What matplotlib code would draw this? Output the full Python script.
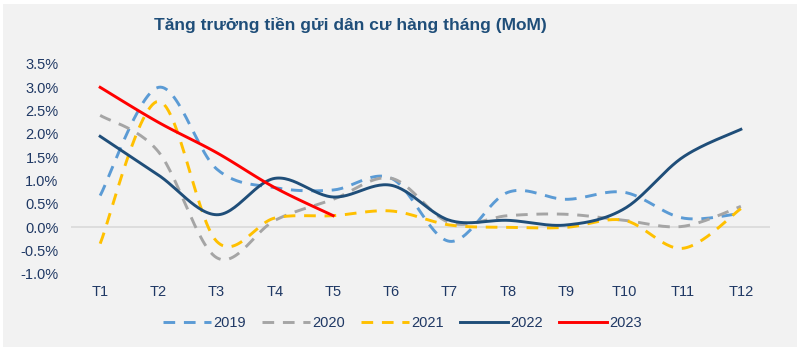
import numpy as np
import matplotlib.pyplot as plt
from matplotlib.patches import Rectangle

months = ['T1', 'T2', 'T3', 'T4', 'T5', 'T6', 'T7', 'T8', 'T9', 'T10', 'T11', 'T12']
y2019 = [0.68, 3.00, 1.25, 0.85, 0.80, 1.05, -0.30, 0.75, 0.60, 0.75, 0.20, 0.30]
y2020 = [2.40, 1.62, -0.65, 0.15, 0.60, 1.05, 0.10, 0.25, 0.28, 0.15, 0.02, 0.45]
y2021 = [-0.35, 2.70, -0.30, 0.20, 0.25, 0.35, 0.05, 0.00, 0.00, 0.15, -0.45, 0.40]
y2022 = [1.95, 1.12, 0.27, 1.05, 0.65, 0.90, 0.15, 0.15, 0.05, 0.40, 1.50, 2.10]
y2023 = [3.00, 2.25, 1.60, 0.85, 0.25]


def smooth(y, n=30):
    # Excel-like smoothed line: Bezier segments with 1/6 tangent control points
    x = np.arange(len(y), dtype=float)
    y = np.asarray(y, dtype=float)
    pts = np.column_stack([x, y])
    p = np.vstack([pts[0], pts, pts[-1]])
    out = []
    t = np.linspace(0, 1, n)[:, None]
    for i in range(1, len(p) - 2):
        p0, p1 = p[i], p[i + 1]
        c1 = p0 + (p[i + 1] - p[i - 1]) / 6
        c2 = p1 - (p[i + 2] - p[i]) / 6
        seg = ((1 - t) ** 3) * p0 + 3 * ((1 - t) ** 2) * t * c1 + 3 * (1 - t) * t ** 2 * c2 + t ** 3 * p1
        out.append(seg if i == 1 else seg[1:])
    seg = np.vstack(out)
    return seg[:, 0], seg[:, 1]


plt.rcParams['font.family'] = ['Liberation Sans', 'DejaVu Sans']
bg = '#F2F2F2'
txt = '#1F3864'

fig = plt.figure(figsize=(8, 3.53), dpi=100, facecolor='white')
fig.patches.append(Rectangle((3 / 800, 6 / 353), 794 / 800, 343 / 353, transform=fig.transFigure,
                             facecolor=bg, edgecolor='none', zorder=-10))
ax = fig.add_axes([0.0888, 0.2238, 0.8737, 0.5949])
ax.set_facecolor(bg)
ax.patch.set_alpha(0)

series = [
    ('2019', y2019, '#5B9BD5', (4, 3)),
    ('2020', y2020, '#A5A5A5', (4, 3)),
    ('2021', y2021, '#FFC000', (4, 3)),
    ('2022', y2022, '#1F4E79', None),
    ('2023', y2023, '#FF0000', None),
]
for name, vals, col, dash in series:
    sx, sy = smooth(vals)
    if dash:
        ax.plot(sx, sy, color=col, lw=2.1, dashes=dash, label=name)
    else:
        ax.plot(sx, sy, color=col, lw=2.1, label=name)

ax.axhline(0, color='#D9D9D9', lw=1.2, zorder=0)
ax.set_xlim(-0.5, 11.5)
ax.set_ylim(-1.0, 3.5)
ax.set_xticks(range(len(months)))
ax.set_xticklabels(months)
yt = np.arange(-1.0, 3.51, 0.5)
ax.set_yticks(yt)
ax.set_yticklabels(['%.1f%%' % v for v in yt])
ax.tick_params(length=0, labelsize=10.5, colors=txt)
ax.tick_params(axis='y', pad=9)
ax.tick_params(axis='x', pad=8)
for s in ax.spines.values():
    s.set_visible(False)

fig.text(0.4375, 0.929, 'Tăng trưởng tiền gửi dân cư hàng tháng (MoM)', ha='center', va='center',
         fontsize=12.5, fontweight='bold', color='#1F4E79')

fig.legend(loc='center', bbox_to_anchor=(0.503, 0.085), ncol=5, frameon=False,
           fontsize=10.5, labelcolor=txt, handlelength=3.3, handletextpad=0.2, columnspacing=1.05)

fig.savefig('out.png', dpi=100, facecolor='white')
